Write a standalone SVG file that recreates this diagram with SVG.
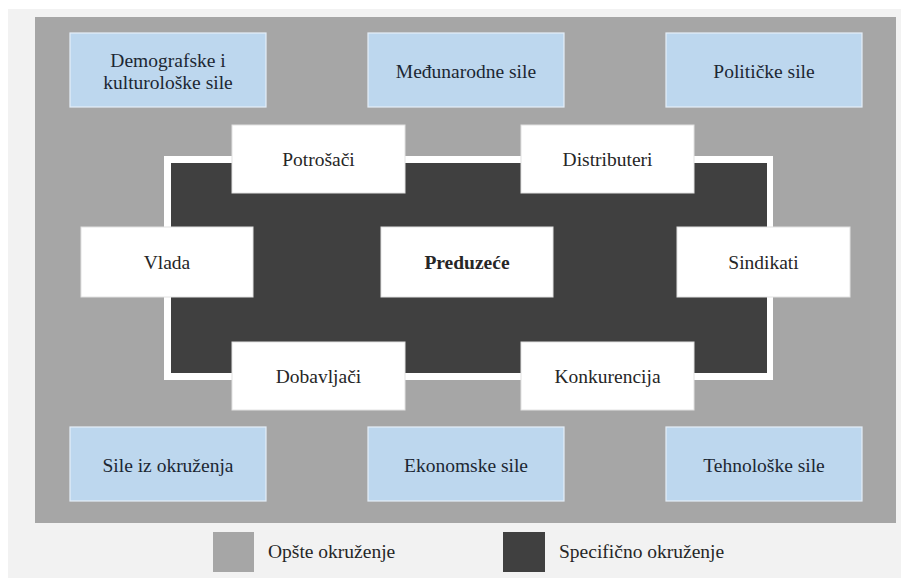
<svg xmlns="http://www.w3.org/2000/svg" width="901" height="578" viewBox="0 0 901 578">
  <style>
    text { font-family: "Liberation Serif", "Times New Roman", serif; font-size: 19.5px; text-anchor: middle; }
    .force rect { fill: #bdd7ee; stroke: #e4eef8; stroke-width: 1.2; }
    .force text { fill: #1c2733; }
    .actor rect { fill: #ffffff; stroke: #e2e2e2; stroke-width: 1; }
    .actor text { fill: #262626; }
    .legend text { text-anchor: start; fill: #262626; }
  </style>

  <!-- page background and general environment panel -->
  <rect x="8" y="9" width="893" height="569" fill="#f2f2f2"/>
  <rect id="general-environment" x="35" y="17" width="861" height="506" fill="#a6a6a6"/>

  <!-- specific environment: white frame around the dark field -->
  <g id="specific-environment">
    <rect x="164" y="156" width="609" height="224" fill="#ffffff"/>
    <rect x="171" y="163" width="596" height="210" fill="#404040"/>
  </g>

  <!-- general environment forces -->
  <g id="demografske" class="force">
    <rect x="70" y="33" width="196" height="74"/>
    <text x="168" y="67">Demografske i</text>
    <text x="168" y="89">kulturološke sile</text>
  </g>
  <g id="medjunarodne" class="force">
    <rect x="368" y="33" width="196" height="74"/>
    <text x="466" y="78">Međunarodne sile</text>
  </g>
  <g id="politicke" class="force">
    <rect x="666" y="33" width="196" height="74"/>
    <text x="764" y="78">Političke sile</text>
  </g>
  <g id="sile-iz-okruzenja" class="force">
    <rect x="70" y="427" width="196" height="74"/>
    <text x="168" y="472">Sile iz okruženja</text>
  </g>
  <g id="ekonomske" class="force">
    <rect x="368" y="427" width="196" height="74"/>
    <text x="466" y="472">Ekonomske sile</text>
  </g>
  <g id="tehnoloske" class="force">
    <rect x="666" y="427" width="196" height="74"/>
    <text x="764" y="472">Tehnološke sile</text>
  </g>

  <!-- specific environment actors -->
  <g id="potrosaci" class="actor">
    <rect x="232" y="125" width="173" height="68"/>
    <text x="318.5" y="166">Potrošači</text>
  </g>
  <g id="distributeri" class="actor">
    <rect x="521" y="125" width="173" height="68"/>
    <text x="607.5" y="166">Distributeri</text>
  </g>
  <g id="vlada" class="actor">
    <rect x="81" y="227" width="172" height="70"/>
    <text x="167" y="269">Vlada</text>
  </g>
  <g id="preduzece" class="actor">
    <rect x="381" y="227" width="172" height="70"/>
    <text x="467" y="269" font-weight="bold">Preduzeće</text>
  </g>
  <g id="sindikati" class="actor">
    <rect x="677" y="227" width="173" height="70"/>
    <text x="763.5" y="269">Sindikati</text>
  </g>
  <g id="dobavljaci" class="actor">
    <rect x="232" y="342" width="173" height="68"/>
    <text x="318.5" y="383">Dobavljači</text>
  </g>
  <g id="konkurencija" class="actor">
    <rect x="521" y="342" width="173" height="68"/>
    <text x="607.5" y="383">Konkurencija</text>
  </g>

  <!-- legend -->
  <g id="legend" class="legend">
    <rect x="213" y="532" width="41" height="40" fill="#a6a6a6"/>
    <text x="268" y="558">Opšte okruženje</text>
    <rect x="503" y="532" width="42" height="40" fill="#404040"/>
    <text x="559" y="558">Specifično okruženje</text>
  </g>
</svg>
